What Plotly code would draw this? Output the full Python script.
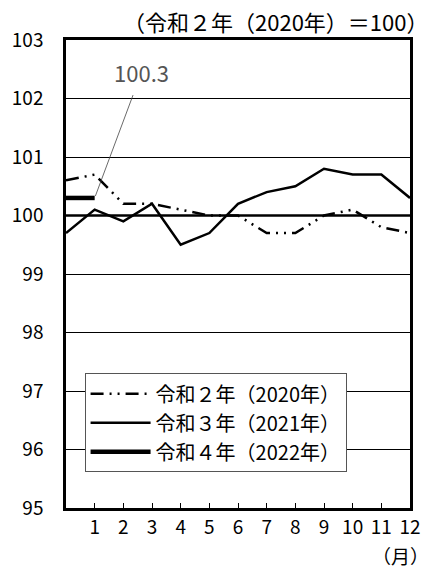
import plotly.graph_objects as go

months = list(range(0, 13))
tick_vals = list(range(1, 13))
tick_text = [str(m) for m in tick_vals]

s2020 = [100.6, 100.7, 100.2, 100.2, 100.1, 100.0, 100.0, 99.7, 99.7, 100.0, 100.1, 99.8, 99.7]
s2021 = [99.7, 100.1, 99.9, 100.2, 99.5, 99.7, 100.2, 100.4, 100.5, 100.8, 100.7, 100.7, 100.3]
s2022 = [100.3, 100.3]

names = ["令和２年（2020年）", "令和３年（2021年）", "令和４年（2022年）"]

FONT = "Noto Sans CJK JP"

fig = go.Figure()
fig.add_trace(go.Scatter(x=months, y=s2020, mode="lines", name=names[0],
                         line=dict(color="black", width=2.5, dash="13px,6px,2px,6px,2px,6px"),
                         legendgroup="a"))
fig.add_trace(go.Scatter(x=months, y=s2021, mode="lines", name=names[1],
                         line=dict(color="black", width=2.5), legendgroup="b"))
fig.add_trace(go.Scatter(x=months[:2], y=s2022, mode="lines", name=names[2],
                         line=dict(color="black", width=4.5), legendgroup="c"))

# reference line at 100
fig.add_shape(type="line", xref="paper", x0=0, x1=1, yref="y", y0=100, y1=100,
              line=dict(color="black", width=2.5), layer="below")

fig.add_annotation(x=1, y=s2022[1], xref="x", yref="y", text="100.3",
                   showarrow=True, arrowhead=0, arrowwidth=0.8, arrowcolor="#444",
                   ax=47, ay=-126, startstandoff=6, standoff=2,
                   font=dict(family=FONT, size=22, color="#555"))

fig.add_annotation(x=1.0, y=1.0, xref="paper", yref="paper", xanchor="right", yanchor="middle",
                   yshift=19, xshift=19, borderpad=0, text="（令和２年（2020年）＝100）",
                   showarrow=False, font=dict(family=FONT, size=22, color="black"))
fig.add_annotation(x=1.0, y=0, xref="paper", yref="paper", xanchor="right", yanchor="middle",
                   yshift=-47, xshift=20, borderpad=0, text="（月）", showarrow=False,
                   font=dict(family=FONT, size=19, color="black"))

fig.update_layout(
    width=433, height=572,
    margin=dict(l=60, r=20, t=40, b=64),
    paper_bgcolor="white", plot_bgcolor="white",
    font=dict(family=FONT, size=18, color="black"),
    showlegend=True,
    legend=dict(x=0.054, y=0.288, xanchor="left", yanchor="top",
                bgcolor="white", bordercolor="#555", borderwidth=1,
                font=dict(family=FONT, size=20), traceorder="grouped",
                tracegroupgap=0, itemwidth=60),
    xaxis=dict(range=[0, 12], tickvals=tick_vals, ticktext=tick_text,
               ticks="inside", ticklen=5, tickcolor="black", tickwidth=1,
               showgrid=False, zeroline=False, showline=True, mirror=True,
               linecolor="black", linewidth=2.5, fixedrange=True,
               tickfont=dict(family=FONT, size=19)),
    yaxis=dict(range=[95, 103], dtick=1, showgrid=True, gridcolor="black", gridwidth=0.8,
               zeroline=False, showline=True, mirror=True, linecolor="black", linewidth=2.5,
               ticks="", ticklabelstandoff=16, fixedrange=True,
               tickfont=dict(family=FONT, size=19)),
)

fig.write_html("out.html", config={"displayModeBar": False},
               post_script="document.body.style.margin='0px';")
